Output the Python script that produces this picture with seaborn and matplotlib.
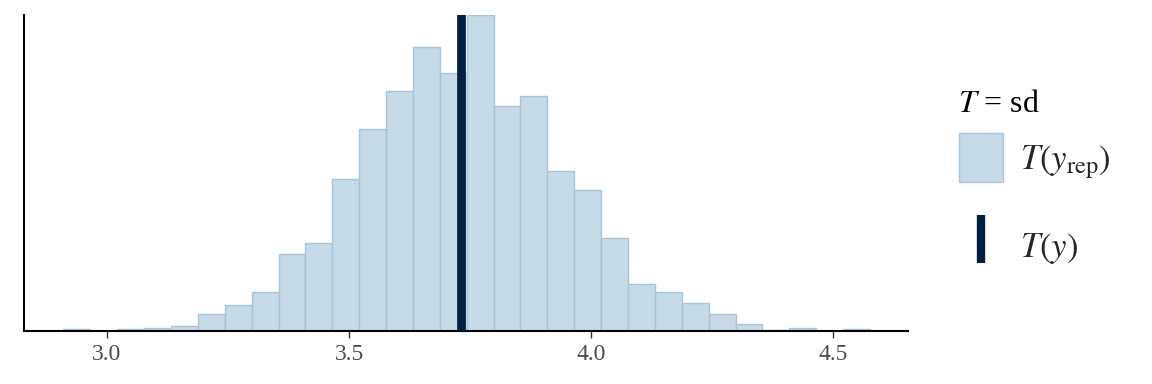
import numpy as np
import pandas as pd
import matplotlib
matplotlib.use("Agg")
import matplotlib.pyplot as plt
import seaborn as sns
from matplotlib.patches import Patch
from matplotlib.lines import Line2D

# ---- data ----
bin_start = 2.9105
bin_width = 0.0555
counts = [3, 0, 3, 4, 7, 25, 38, 58, 114, 130, 224, 298, 355, 419, 382,
          467, 332, 348, 236, 208, 138, 70, 58, 42, 25, 10, 2, 4, 0, 3]
t_y = 3.7315
tick_vals = [3.0, 3.5, 4.0, 4.5]
tick_labels = ["3.0", "3.5", "4.0", "4.5"]

fill_col = "#c6dae8"
edge_col = "#a6c4dc"
dark_col = "#011f3f"

n = len(counts)
edges = bin_start + bin_width * np.arange(n + 1)
centers = (edges[:-1] + edges[1:]) / 2
df = pd.DataFrame({"stat": centers, "count": counts})

sns.set_style("white")
plt.rcParams["font.family"] = ["Liberation Serif", "DejaVu Serif"]
plt.rcParams["mathtext.fontset"] = "stix"

fig = plt.figure(figsize=(11.52, 3.84), dpi=100)
ax = fig.add_axes([24/1152, 53/384, (908-24)/1152, (331-15)/384])

sns.histplot(data=df, x="stat", weights="count", binwidth=bin_width,
             binrange=(edges[0], edges[-1]), ax=ax,
             color=fill_col, edgecolor=edge_col, linewidth=1.0, alpha=1.0)
ax.axvline(t_y, color=dark_col, lw=6.3, zorder=5)

ax.set_xlim(2.829, 4.654)
ax.set_ylim(0, max(counts))
ax.set_xlabel("")
ax.set_ylabel("")
ax.set_yticks([])
ax.set_xticks(tick_vals)
ax.set_xticklabels(tick_labels, fontsize=17, color="#4d4d4d")
ax.tick_params(axis="x", length=5, width=1.0, color="#333333", pad=4, bottom=True)
for s in ["top", "right"]:
    ax.spines[s].set_visible(False)
for s in ["left", "bottom"]:
    ax.spines[s].set_color("black")
    ax.spines[s].set_linewidth(1.5)

handles = [
    Patch(facecolor=fill_col, edgecolor=edge_col, linewidth=1.0),
    Line2D([], [], color=dark_col, marker="|", linestyle="none",
           markersize=34, markeredgewidth=6),
]
labels = [r"$T\left(y_{\mathrm{rep}}\right)$", r"$T\left(y\right)$"]
fig.text(958/1152, 1 - 112/384, r"$T$ = sd", fontsize=23, color="black",
         ha="left", va="baseline")
leg = fig.legend(handles, labels, loc="upper left",
                 bbox_to_anchor=(935/1152, 1 - 109/384),
                 fontsize=25,
                 frameon=False, handlelength=1.25, handleheight=1.77,
                 handletextpad=0.5, labelspacing=1.15, borderpad=0.2)

fig.savefig("out.png", dpi=100)
